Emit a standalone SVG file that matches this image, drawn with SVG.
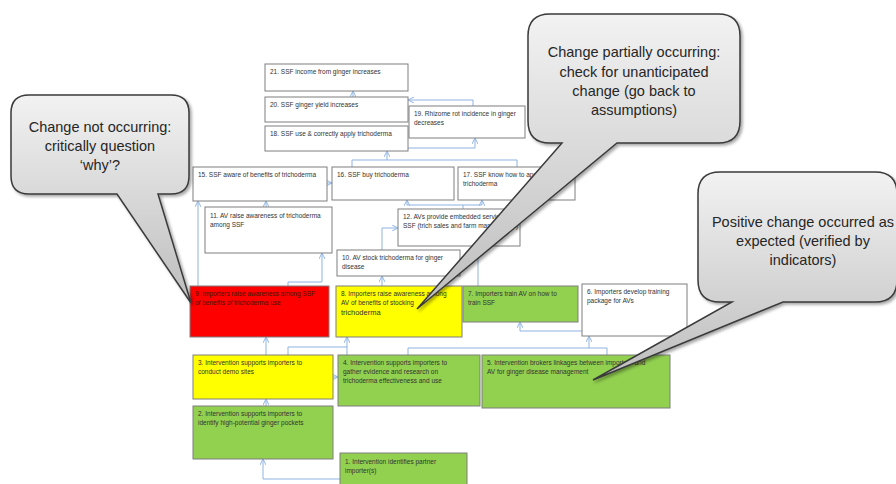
<svg xmlns="http://www.w3.org/2000/svg" width="896" height="484" viewBox="0 0 896 484">
<defs>
<style>
.box{stroke:#7f7f7f;stroke-width:1}
.w{fill:#ffffff}.r{fill:#ff0000}.y{fill:#ffff00}.g{fill:#92d050}
.t{font-family:"Liberation Sans",Arial,sans-serif;font-size:6.5px;fill:#333333}
.c{fill:none;stroke:#8db3e2;stroke-width:1}
.a{marker-end:url(#arr)}
.bub{fill:url(#bg);stroke:#3a3a3a;stroke-width:1.5;filter:url(#sh)}
.bt{font-family:"Liberation Sans",Arial,sans-serif;font-size:14.5px;fill:#262626;text-anchor:middle}
</style>
<marker id="arr" viewBox="0 0 8 8" refX="8" refY="4" markerWidth="6" markerHeight="6" orient="auto" markerUnits="userSpaceOnUse">
<path d="M0,0 L8,4 L0,8" fill="none" stroke="#8db3e2" stroke-width="1.3"/>
</marker>
<linearGradient id="bg" x1="0" y1="0" x2="0" y2="1">
<stop offset="0" stop-color="#f2f2f2"/>
<stop offset="1" stop-color="#bdbdbd"/>
</linearGradient>
<filter id="sh" x="-10%" y="-10%" width="130%" height="130%">
<feDropShadow dx="2" dy="2" stdDeviation="1.5" flood-color="#000" flood-opacity="0.35"/>
</filter>
</defs>
<rect width="896" height="484" fill="#ffffff"/>

<g id="connectors">
<path class="c a" d="M353,97 V91"/>
<path class="c a" d="M473,106 V100 H408"/>
<path class="c a" d="M408,148 H475 V138"/>
<path class="c" d="M352,167 V160 H517 V167"/>
<path class="c a" d="M387,160 V151"/>
<path class="c a" d="M327,183 H332"/>
<path class="c" d="M463,209 V205 M407,205 H482"/>
<path class="c a" d="M407,205 V200"/>
<path class="c a" d="M482,205 V200"/>
<path class="c a" d="M266,207 V201"/>
<path class="c a" d="M382,250 V228 H398"/>
<path class="c a" d="M198,286 V201"/>
<path class="c a" d="M288,286 V282 H322 V253"/>
<path class="c a" d="M382,286 V276"/>
<path class="c a" d="M478,286 V246"/>
<path class="c a" d="M582,331 H520 V322"/>
<path class="c a" d="M266,355 V337"/>
<path class="c a" d="M288,355 V347 H347 V337"/>
<path class="c" d="M347,355 V347"/>
<path class="c" d="M408,355 V348 H607 V355"/>
<path class="c a" d="M589,348 V336"/>
<path class="c a" d="M333,377 H338"/>
<path class="c a" d="M266,406 V399"/>
<path class="c a" d="M340,479 H263 V459"/>
</g>

<g id="n21"><rect class="box w" x="265" y="64" width="143" height="27"/><text class="t" x="270" y="74">21. SSF income from ginger increases</text></g>
<g id="n20"><rect class="box w" x="265" y="97" width="143" height="25"/><text class="t" x="270" y="107">20. SSF ginger yield increases</text></g>
<g id="n18"><rect class="box w" x="265" y="126" width="143" height="25"/><text class="t" x="270" y="136">18. SSF use &amp; correctly apply trichoderma</text></g>
<g id="n19"><rect class="box w" x="409" y="106" width="116" height="32"/><text class="t" x="414" y="116">19. Rhizome rot incidence in ginger</text><text class="t" x="414" y="125">decreases</text></g>
<g id="n15"><rect class="box w" x="193" y="167" width="134" height="34"/><text class="t" x="198" y="177">15. SSF aware of benefits of trichoderma</text></g>
<g id="n16"><rect class="box w" x="332" y="167" width="122" height="33"/><text class="t" x="337" y="177">16. SSF buy trichoderma</text></g>
<g id="n17"><rect class="box w" x="458" y="167" width="117" height="33"/><text class="t" x="463" y="177">17. SSF know how to apply</text><text class="t" x="463" y="186">trichoderma</text></g>
<g id="n11"><rect class="box w" x="205" y="207" width="127" height="46"/><text class="t" x="210" y="218">11. AV  raise awareness of trichoderma</text><text class="t" x="210" y="227">among SSF</text></g>
<g id="n12"><rect class="box w" x="398" y="209" width="122" height="37"/><text class="t" x="403" y="219">12. AVs provide embedded  services to</text><text class="t" x="403" y="228">SSF (trich sales and farm management)</text></g>
<g id="n10"><rect class="box w" x="337" y="250" width="123" height="26"/><text class="t" x="342" y="260">10. AV stock trichoderma for ginger</text><text class="t" x="342" y="269">disease</text></g>
<g id="n9"><rect class="box r" x="190" y="286" width="139" height="51"/><text class="t" x="195" y="296" style="fill:#3a1a00">9. Importers raise awareness among SSF</text><text class="t" x="195" y="305" style="fill:#3a1a00">of benefits of trichoderma use</text></g>
<g id="n8"><rect class="box y" x="336" y="286" width="126" height="51"/><text class="t" x="341" y="296">8. Importers raise awareness among</text><text class="t" x="341" y="305">AV  of benefits of stocking</text><text class="t" x="341" y="315" style="font-size:7.5px">trichoderma</text></g>
<g id="n7"><rect class="box g" x="463" y="286" width="115" height="36"/><text class="t" x="468" y="296">7. Importers train AV on how to</text><text class="t" x="468" y="305">train SSF</text></g>
<g id="n6"><rect class="box w" x="582" y="284" width="105" height="52"/><text class="t" x="587" y="294">6. Importers develop training</text><text class="t" x="587" y="303">package for AVs</text></g>
<g id="n3"><rect class="box y" x="193" y="355" width="140" height="44"/><text class="t" x="198" y="365">3. Intervention supports importers to</text><text class="t" x="198" y="374">conduct demo sites</text></g>
<g id="n4"><rect class="box g" x="338" y="355" width="142" height="51"/><text class="t" x="343" y="365">4. Intervention supports importers to</text><text class="t" x="343" y="374">gather evidence and research on</text><text class="t" x="343" y="383">trichoderma effectiveness and use</text></g>
<g id="n5"><rect class="box g" x="482" y="355" width="188" height="53"/><text class="t" x="487" y="365">5. Intervention brokers linkages between importers and</text><text class="t" x="487" y="374">AV for ginger disease management</text></g>
<g id="n2"><rect class="box g" x="193" y="406" width="140" height="53"/><text class="t" x="198" y="416">2. Intervention supports importers to</text><text class="t" x="198" y="425">identify high-potential ginger  pockets</text></g>
<g id="n1"><rect class="box g" x="340" y="453" width="127" height="40"/><text class="t" x="345" y="464">1. Intervention identifies partner</text><text class="t" x="345" y="473">importer(s)</text></g>

<g id="callout-not">
<path class="bub" d="M29,95 H171 Q189,95 189,113 V176 Q189,194 171,194 H158 L191,303 L117,194 H29 Q11,194 11,176 V113 Q11,95 29,95 Z"/>
<text class="bt" x="100" y="132">Change not occurring:</text>
<text class="bt" x="100" y="151">critically question</text>
<text class="bt" x="100" y="170">‘why’?</text>
</g>
<g id="callout-partial">
<path class="bub" d="M550,14 H718 Q740,14 740,36 V121 Q740,143 718,143 H617 L417,309 L562,143 H550 Q528,143 528,121 V36 Q528,14 550,14 Z"/>
<text class="bt" x="634" y="57">Change partially occurring:</text>
<text class="bt" x="634" y="77">check for unanticipated</text>
<text class="bt" x="634" y="96">change (go back to</text>
<text class="bt" x="634" y="115">assumptions)</text>
</g>
<g id="callout-positive">
<path class="bub" d="M720,172 H875 Q897,172 897,194 V280 Q897,302 875,302 H783 L593,380 L732,302 H720 Q698,302 698,280 V194 Q698,172 720,172 Z"/>
<text class="bt" x="803" y="227">Positive change occurred as</text>
<text class="bt" x="803" y="246">expected (verified by</text>
<text class="bt" x="803" y="265">indicators)</text>
</g>
</svg>
